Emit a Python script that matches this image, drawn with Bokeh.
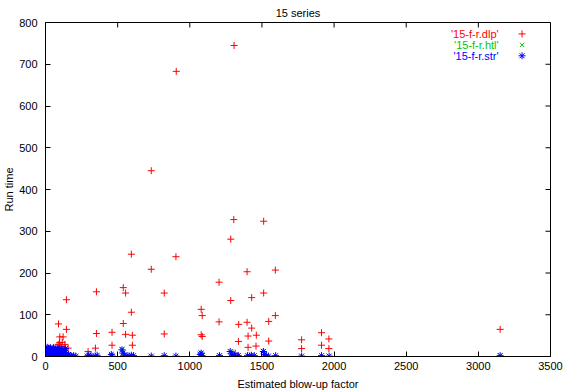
from bokeh.plotting import figure
from bokeh.models import Range1d, FixedTicker
from bokeh.core.properties import value
from bokeh.embed import file_html
from bokeh.resources import INLINE

# ---------------- data ----------------
dlp_x = [1307, 906, 733, 1305, 1512, 1284, 595, 904, 733, 1397, 1593, 1203, 539, 555, 353,
         823, 145, 1284, 1429, 1512, 1079, 1086, 1593, 595, 539, 90, 1203, 1339, 1397, 1547,
         1429, 145, 3151, 1913, 353, 461, 555, 602, 823, 1079, 1086, 1404, 1461, 1964, 122,
         99, 1337, 1547, 1775, 97, 116, 88, 134, 461, 602, 1913, 1459, 1404, 1964, 1775,
         346, 41, 55, 157, 295, 1315, 83, 106, 70, 20, 130]
dlp_y = [745, 683, 445, 328, 324, 281, 245, 239, 209, 203, 207, 178, 165, 152, 155,
         152, 136, 134, 141, 152, 113, 98, 98, 106, 79, 78, 83, 77, 82, 84,
         68, 65, 65, 57, 55, 58, 53, 51, 54, 52, 48, 49, 51, 42, 47,
         47, 36, 37, 40, 33, 34, 29, 29, 27, 27, 27, 25, 22, 19, 19,
         20, 17, 22, 20, 12, 8, 17, 25, 10, 12, 18]

htl_x = [530, 540, 1079, 1290, 1512, 60, 100, 456, 1206, 3151, 125, 20, 1086, 1520]
htl_y = [18, 10, 9, 11, 13, 8, 12, 3, 2, 3, 15, 6, 4, 6]

str_x = [2, 5, 8, 10, 12, 15, 18, 20, 22, 25, 28, 30, 33, 35, 38, 40, 43, 45, 48, 50,
         53, 55, 58, 60, 63, 65, 68, 70, 73, 75, 78, 80, 83, 85, 88, 90, 93, 95, 98, 100,
         103, 105, 108, 110, 113, 115, 118, 120, 123, 125, 128, 130, 133, 135, 138, 140,
         145, 150, 155, 160, 170, 180, 195, 210,
         290, 300, 315, 345, 358, 456, 462, 530, 537, 545, 565, 580, 595, 610, 733, 823,
         904, 1072, 1079, 1085, 1206, 1280, 1290, 1297, 1310, 1328, 1336, 1400, 1415, 1427,
         1447, 1510, 1517, 1530, 1545, 1595, 1775, 1913, 1966, 3151]
str_y = [3, 10, 18, 5, 22, 1, 12, 20, 6, 15, 2, 19, 9, 21, 4, 14, 1, 17, 8, 12,
         3, 20, 10, 5, 16, 2, 11, 18, 7, 1, 14, 20, 4, 9, 16, 2, 12, 19, 6, 1,
         15, 10, 3, 18, 8, 13, 2, 17, 6, 11, 1, 15, 4, 9, 19, 2,
         7, 3, 1, 5, 2, 1, 2, 1,
         1, 3, 2, 1, 3, 5, 1, 16, 8, 3, 2, 1, 3, 2, 1, 2,
         1, 5, 8, 2, 2, 12, 6, 2, 3, 1, 2, 2, 1, 3,
         2, 12, 5, 2, 1, 2, 1, 2, 1, 2]

series_labels = ["'15-f-r.dlp'", "'15-f-r.htl'", "'15-f-r.str'"]
x_ticks = [0, 500, 1000, 1500, 2000, 2500, 3000, 3500]
y_ticks = [0, 100, 200, 300, 400, 500, 600, 700, 800]
title_text = "15 series"
x_label = "Estimated blow-up factor"
y_label = "Run time"

# ---------------- style ----------------
FONT = "Liberation Sans"
FS = "11px"
RED, GREEN, BLUE = "#ff0000", "#00c800", "#0000ff"
BORDER_L, BORDER_R, BORDER_T, BORDER_B = 44, 13, 21, 35
FRAME_W, FRAME_H = 563 - BORDER_L - BORDER_R, 392 - BORDER_T - BORDER_B
TICK = 5

p = figure(width=563, height=392, x_range=Range1d(0, 3500), y_range=Range1d(0, 800),
           output_backend="svg", toolbar_location=None,
           min_border_left=BORDER_L, min_border_right=BORDER_R,
           min_border_top=BORDER_T, min_border_bottom=BORDER_B,
           title=title_text, x_axis_label=x_label, y_axis_label=y_label)
p.extra_x_ranges = {"px": Range1d(0, FRAME_W)}
p.extra_y_ranges = {"px": Range1d(0, FRAME_H)}

p.title.align = "center"
p.title.offset = -26
p.title.standoff = 8
p.title.vertical_align = "bottom"
p.title.text_font = FONT
p.title.text_font_size = FS
p.title.text_font_style = "normal"
p.title.text_color = "black"

p.grid.visible = False
p.outline_line_color = "black"
p.outline_line_alpha = 1
p.background_fill_color = "white"
p.border_fill_color = "white"

for ax, ticks in ((p.xaxis[0], x_ticks), (p.yaxis[0], y_ticks)):
    ax.ticker = FixedTicker(ticks=ticks, minor_ticks=[])
    ax.major_tick_in = TICK
    ax.major_tick_out = 0
    ax.minor_tick_line_color = None
    ax.axis_line_color = "black"
    ax.major_tick_line_color = "black"
    ax.major_label_text_font = FONT
    ax.major_label_text_font_size = FS
    ax.major_label_text_color = "black"
    ax.axis_label_text_font = FONT
    ax.axis_label_text_font_size = FS
    ax.axis_label_text_font_style = "normal"
    ax.axis_label_text_color = "black"
p.xaxis[0].major_label_standoff = 5
p.xaxis[0].axis_label_standoff = 5
p.yaxis[0].major_label_standoff = 8
p.yaxis[0].axis_label_standoff = 1

# data marks
p.scatter(dlp_x, dlp_y, marker="cross", size=7, line_color=RED, line_width=1)
p.scatter(htl_x, htl_y, marker="x", size=6, line_color=GREEN, line_width=1)
p.scatter(str_x, str_y, marker="asterisk", size=7, line_color=BLUE, line_width=1)

# key (gnuplot style: text then sample), in frame pixel coordinates
KEY_TEXT_X = 454
KEY_MARK_X = 477.5
KEY_Y0 = 324.5
KEY_DY = 11
key_y = [KEY_Y0 - i * KEY_DY for i in range(3)]
p.text(x=[KEY_TEXT_X] * 3, y=key_y, text=series_labels, text_color=[RED, GREEN, BLUE],
       text_align="right", text_baseline="middle", text_font=value(FONT),
       text_font_size=FS, x_range_name="px", y_range_name="px")
for i, (mk, col, sz) in enumerate((("cross", RED, 7), ("x", GREEN, 6), ("asterisk", BLUE, 7))):
    p.scatter([KEY_MARK_X], [key_y[i]], marker=mk, size=sz, line_color=col,
              line_width=1, x_range_name="px", y_range_name="px")

# mirrored ticks on top and right sides of the frame (gnuplot style)
p.segment(x0=x_ticks, y0=[FRAME_H] * len(x_ticks), x1=x_ticks, y1=[FRAME_H - TICK] * len(x_ticks),
          y_range_name="px", line_color="black", line_width=1)
p.segment(x0=[FRAME_W] * len(y_ticks), y0=y_ticks, x1=[FRAME_W - TICK] * len(y_ticks), y1=y_ticks,
          x_range_name="px", line_color="black", line_width=1)

open("out.html", "w").write(file_html(p, INLINE))
